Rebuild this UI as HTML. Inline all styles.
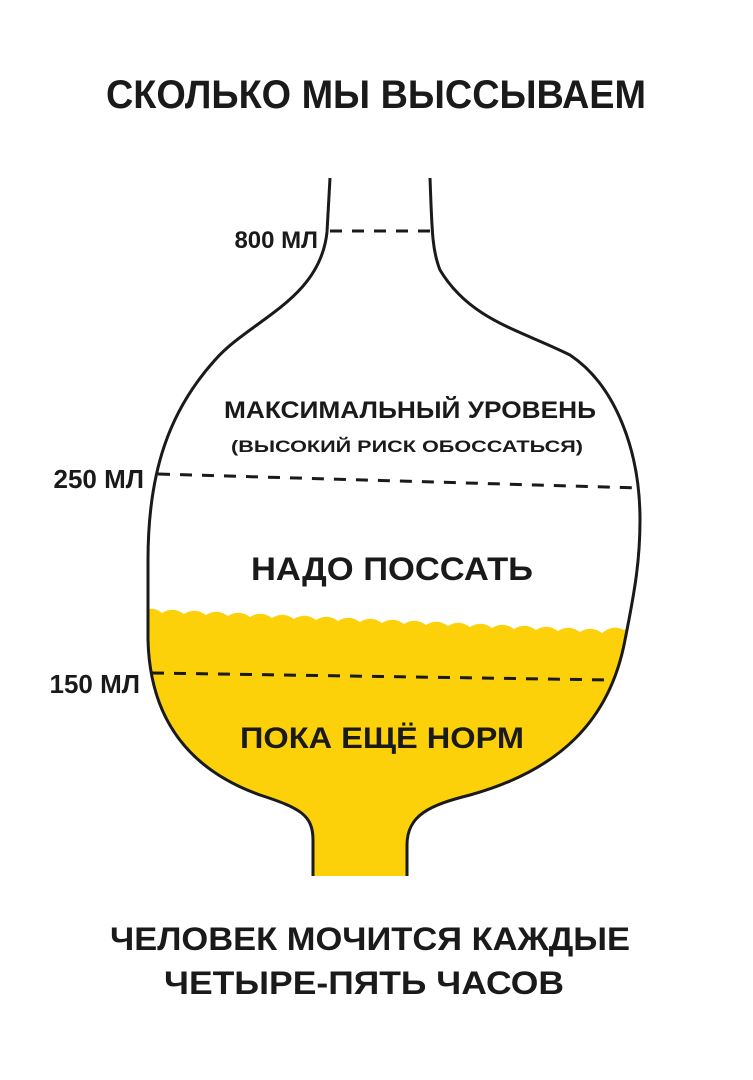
<!DOCTYPE html>
<html><head><meta charset="utf-8"><style>
html,body{margin:0;padding:0;background:#fff;}
svg{display:block}
text{font-family:"Liberation Sans",sans-serif;fill:#1a1a1a;font-weight:bold}
</style></head><body>
<svg width="753" height="1080" viewBox="0 0 753 1080" xmlns="http://www.w3.org/2000/svg">
<defs>
<clipPath id="b"><path d="M330,178 L327,232 C320,300 250,320 215,360 C170,410 148,470 148,560 L148,640 C150,720 190,770 260,795 C300,808 313,815 313,840 L313,876 L407,876 L407,845 C407,815 430,805 470,795 C560,770 610,720 625,640 C635,590 640,560 640,520 C640,450 615,385 570,355 C520,330 470,320 440,270 C432,250 432,230 430,178 Z"/></clipPath>
</defs>
<g clip-path="url(#b)">
<path fill="#fdd10a" d="M140,614 Q151,604 162,613 Q173,606 184,614 Q195,607 206,615 Q217,608 228,616 Q239,609 250,617 Q261,610 272,618 Q283,611 294,619 Q305,612 316,620 Q327,613 338,621 Q349,614 360,622 Q371,615 382,623 Q393,616 404,624 Q415,617 426,625 Q437,618 448,626 Q459,619 470,627 Q481,620 492,628 Q503,621 514,629 Q525,622 536,630 Q547,623 558,631 Q569,624 580,632 Q591,625 602,633 Q613,624 624,630 Q635,623 650,628 L650,900 L140,900 Z"/>
</g>
<path d="M330,178 L327,232 C320,300 250,320 215,360 C170,410 148,470 148,560 L148,640 C150,720 190,770 260,795 C300,808 313,815 313,840 L313,876 M407,876 L407,845 C407,815 430,805 470,795 C560,770 610,720 625,640 C635,590 640,560 640,520 C640,450 615,385 570,355 C520,330 470,320 440,270 C432,250 432,230 430,178" fill="none" stroke="#1a1a1a" stroke-width="3"/>
<g stroke="#1a1a1a" stroke-width="3" stroke-dasharray="12,10" fill="none">
<line x1="330" y1="231" x2="432" y2="231"/>
<line x1="158" y1="474" x2="640" y2="488"/>
<line x1="152" y1="673" x2="612" y2="680"/>
</g>
<text x="376" y="108" font-size="40" text-anchor="middle" textLength="540" lengthAdjust="spacingAndGlyphs" font-weight="normal">СКОЛЬКО МЫ ВЫССЫВАЕМ</text>
<text x="318" y="248" font-size="24" text-anchor="end" font-weight="normal">800 МЛ</text>
<text x="144" y="488" font-size="26" text-anchor="end" font-weight="normal">250 МЛ</text>
<text x="140" y="693" font-size="26" text-anchor="end" font-weight="normal">150 МЛ</text>
<text x="410" y="418" font-size="24" text-anchor="middle" textLength="372" lengthAdjust="spacingAndGlyphs">МАКСИМАЛЬНЫЙ УРОВЕНЬ</text>
<text x="407" y="452" font-size="17" text-anchor="middle" textLength="352" lengthAdjust="spacingAndGlyphs" font-weight="normal">(ВЫСОКИЙ РИСК ОБОССАТЬСЯ)</text>
<text x="392" y="580" font-size="32" text-anchor="middle" textLength="282" lengthAdjust="spacingAndGlyphs">НАДО ПОССАТЬ</text>
<text x="382" y="748" font-size="30" text-anchor="middle" textLength="284" lengthAdjust="spacingAndGlyphs">ПОКА ЕЩЁ НОРМ</text>
<text x="370" y="950" font-size="32" text-anchor="middle" textLength="520" lengthAdjust="spacingAndGlyphs">ЧЕЛОВЕК МОЧИТСЯ КАЖДЫЕ</text>
<text x="364" y="994" font-size="32" text-anchor="middle" textLength="400" lengthAdjust="spacingAndGlyphs">ЧЕТЫРЕ-ПЯТЬ ЧАСОВ</text>
</svg>
</body></html>
